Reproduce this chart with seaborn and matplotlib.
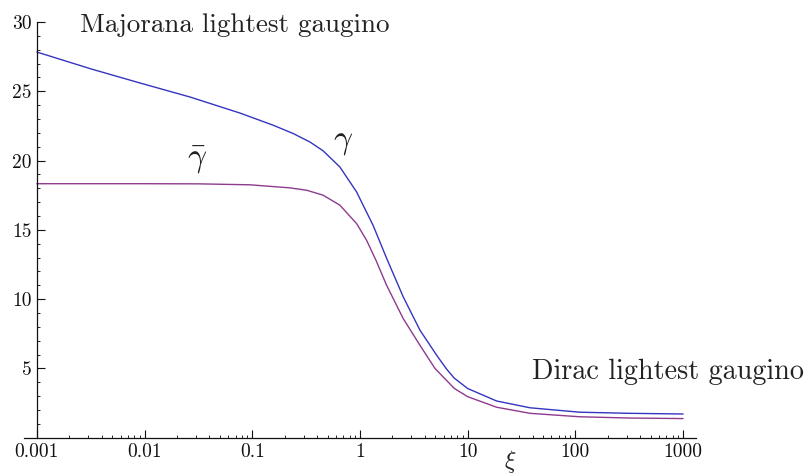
import numpy as np
import pandas as pd
import matplotlib
matplotlib.use('Agg')
import matplotlib.pyplot as plt
import seaborn as sns
from matplotlib.ticker import FixedLocator, NullFormatter

# log10(xi) positions and values
log_xi_gamma = [-3, -2.5, -2.044, -1.58, -1.115, -0.806, -0.62, -0.465, -0.342, -0.187, -0.032,
                0.123, 0.247, 0.401, 0.556, 0.711, 0.804, 0.875, 1.0, 1.268, 1.578, 2.04, 2.5, 3]
gamma = [27.83, 26.62, 25.6, 24.59, 23.43, 22.55, 21.95, 21.34, 20.7, 19.54, 17.74,
         15.3, 12.95, 10.17, 7.77, 5.96, 4.95, 4.3, 3.55, 2.65, 2.16, 1.84, 1.76, 1.71]

log_xi_gbar = [-3, -2, -1.5, -1.02, -0.651, -0.496, -0.342, -0.187, -0.032, 0.061, 0.148,
               0.247, 0.401, 0.556, 0.696, 0.875, 1.0, 1.268, 1.578, 2.04, 2.5, 3]
gamma_bar = [18.33, 18.33, 18.32, 18.25, 18.03, 17.86, 17.5, 16.78, 15.46, 14.25, 12.81,
             11.0, 8.6, 6.68, 5.0, 3.56, 2.96, 2.2, 1.76, 1.51, 1.42, 1.38]

df = pd.DataFrame({
    'xi': [10 ** v for v in log_xi_gamma + log_xi_gbar],
    'value': gamma + gamma_bar,
    'series': ['gamma'] * len(gamma) + ['gamma_bar'] * len(gamma_bar),
})

x_ticks = [0.001, 0.01, 0.1, 1, 10, 100, 1000]
x_tick_labels = ['0.001', '0.01', '0.1', '1', '10', '100', '1000']
y_ticks = [5, 10, 15, 20, 25, 30]

sns.set_style('ticks')
plt.rcParams['font.family'] = ['cmr10', 'DejaVu Serif']
plt.rcParams['mathtext.fontset'] = 'cm'
plt.rcParams['axes.formatter.use_mathtext'] = True

fig = plt.figure(figsize=(8.12, 4.75), dpi=100)
ax = fig.add_axes([24 / 812, 37.3 / 475, 672 / 812, 415.7 / 475])

sns.lineplot(data=df, x='xi', y='value', hue='series',
             palette={'gamma': '#3535c0', 'gamma_bar': '#8e3a8e'},
             linewidth=1.0, legend=False, sort=False, ax=ax)

ax.set_xscale('log')
ax.set_xlim(10 ** -3.12, 10 ** 3.12)
ax.set_ylim(0, 30)

ax.spines['left'].set_position(('data', 0.001))
ax.spines['bottom'].set_position(('data', 0))
ax.spines['top'].set_visible(False)
ax.spines['right'].set_visible(False)
for s in ['left', 'bottom']:
    ax.spines[s].set_linewidth(0.9)
    ax.spines[s].set_color('#111111')

ax.xaxis.set_major_locator(FixedLocator(x_ticks))
ax.set_xticklabels(x_tick_labels)
minor_x = [m * 10.0 ** e for e in range(-3, 3) for m in range(2, 10)]
ax.xaxis.set_minor_locator(FixedLocator(minor_x))
ax.xaxis.set_minor_formatter(NullFormatter())
ax.yaxis.set_major_locator(FixedLocator(y_ticks))
ax.set_yticklabels([str(v) for v in y_ticks])
ax.yaxis.set_minor_locator(FixedLocator([v for v in range(1, 30) if v % 5]))

ax.tick_params(which='major', direction='in', length=5.5, width=0.8, labelsize=14,
               colors='#111111', pad=4)
ax.tick_params(which='minor', direction='in', length=2.5, width=0.7)
ax.set_xlabel('')
ax.set_ylabel('')

ax.text(0.0025, 29.75, 'Majorana lightest gaugino', fontsize=19.5, color='#222222',
        va='center', ha='left', clip_on=False)
ax.text(39.2, 4.76, 'Dirac lightest gaugino', fontsize=20.3, color='#222222',
        va='center', ha='left', clip_on=False)
ax.text(0.69, 21.3, r'$\gamma$', fontsize=24, color='#222222', ha='center', va='center')
ax.text(0.0304, 20.0, r'$\bar{\gamma}$', fontsize=24, color='#222222', ha='center', va='center')
ax.text(24.7, -1.7, r'$\xi$', fontsize=17, color='#222222', ha='center', va='center',
        clip_on=False)

fig.savefig('out.png', dpi=100)
